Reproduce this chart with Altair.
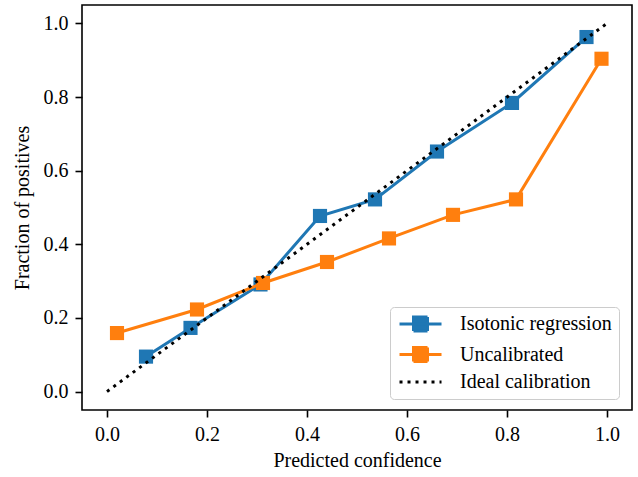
import altair as alt
import pandas as pd

# ---- data ----
series_names = ["Isotonic regression", "Uncalibrated", "Ideal calibration"]
series_colors = ["#1f77b4", "#ff7f0e", "#000000"]

iso_x = [0.078, 0.167, 0.307, 0.426, 0.536, 0.660, 0.810, 0.959]
iso_y = [0.095, 0.173, 0.291, 0.477, 0.522, 0.652, 0.784, 0.963]

unc_x = [0.020, 0.180, 0.312, 0.440, 0.564, 0.692, 0.818, 0.989]
unc_y = [0.159, 0.223, 0.295, 0.352, 0.416, 0.480, 0.522, 0.904]

ideal_x = [0.0, 1.0]
ideal_y = [0.0, 1.0]

tick_values = [0.0, 0.2, 0.4, 0.6, 0.8, 1.0]

rows = []
for name, xs, ys in zip(series_names, [iso_x, unc_x, ideal_x], [iso_y, unc_y, ideal_y]):
    for i, (xv, yv) in enumerate(zip(xs, ys)):
        rows.append({"series": name, "x": xv, "y": yv, "order": i})
df = pd.DataFrame(rows)

FONT = "'Liberation Serif', 'Times New Roman', serif"
W, H = 550, 405

line_path = "M-1.07,0L4.93,0"
sq_path = line_path + "M0.93,-1L2.93,-1L2.93,1L0.93,1Z"
is_ideal = "datum.value === 'Ideal calibration'"

legend = alt.Legend(
    title=None,
    orient="none",
    legendX=308,
    legendY=302,
    symbolSize=196,
    symbolStrokeWidth=3,
    symbolOpacity=1,
    symbolType=alt.ExprRef(expr=f"{is_ideal} ? '{line_path}' : '{sq_path}'"),
    symbolDash=alt.ExprRef(expr=f"{is_ideal} ? [3,5] : [1,0]"),
    symbolFillColor=alt.ExprRef(
        expr=f"{is_ideal} ? 'transparent' : scale('color', datum.value)"
    ),
    symbolStrokeColor=alt.ExprRef(expr="scale('color', datum.value)"),
    labelOffset=43,
    padding=7,
    rowPadding=4.5,
    labelFont=FONT,
    labelFontSize=20,
    labelColor="black",
    labelLimit=400,
    fillColor="rgba(255,255,255,0.8)",
    strokeColor="#cccccc",
    cornerRadius=4,
)

color = alt.Color(
    "series:N",
    scale=alt.Scale(domain=series_names, range=series_colors),
    legend=legend,
)

x_enc = alt.X(
    "x:Q",
    scale=alt.Scale(domain=[-0.05, 1.05], nice=False, zero=False),
    axis=alt.Axis(
        title="Predicted confidence",
        values=tick_values,
        format=".1f",
        titleY=56,
        titleBaseline="alphabetic",
    ),
)
y_enc = alt.Y(
    "y:Q",
    scale=alt.Scale(domain=[-0.05, 1.05], nice=False, zero=False),
    axis=alt.Axis(
        title="Fraction of positives",
        values=tick_values,
        format=".1f",
        titleX=-54,
        titleY=H / 2,
        titleBaseline="alphabetic",
    ),
)

base = alt.Chart(df).encode(x=x_enc, y=y_enc, color=color, order="order:Q")

layers = []
for name in series_names[:2]:
    sub = base.transform_filter(alt.datum.series == name)
    layers.append(sub.mark_line(strokeWidth=3))
    layers.append(sub.mark_square(size=200, opacity=1))
layers.append(
    base.transform_filter(alt.datum.series == series_names[2]).mark_line(
        strokeWidth=3, strokeDash=[3, 5], strokeCap="butt"
    )
)

chart = (
    alt.layer(*layers)
    .properties(
        width=W,
        height=H,
        autosize=alt.AutoSizeParams(type="none"),
        padding={"left": 82, "top": 5, "right": 6, "bottom": 67},
    )
    .configure_view(stroke="black", strokeWidth=1.6)
    .configure_axis(
        labelFont=FONT,
        labelFontSize=20,
        labelColor="black",
        titleFont=FONT,
        titleFontSize=20,
        titleFontWeight="normal",
        titleColor="black",
        tickColor="black",
        tickWidth=1.6,
        tickSize=7,
        labelPadding=7,
        domain=False,
        grid=False,
    )
)

chart.save("out.html", embed_options={"renderer": "svg", "actions": False})
